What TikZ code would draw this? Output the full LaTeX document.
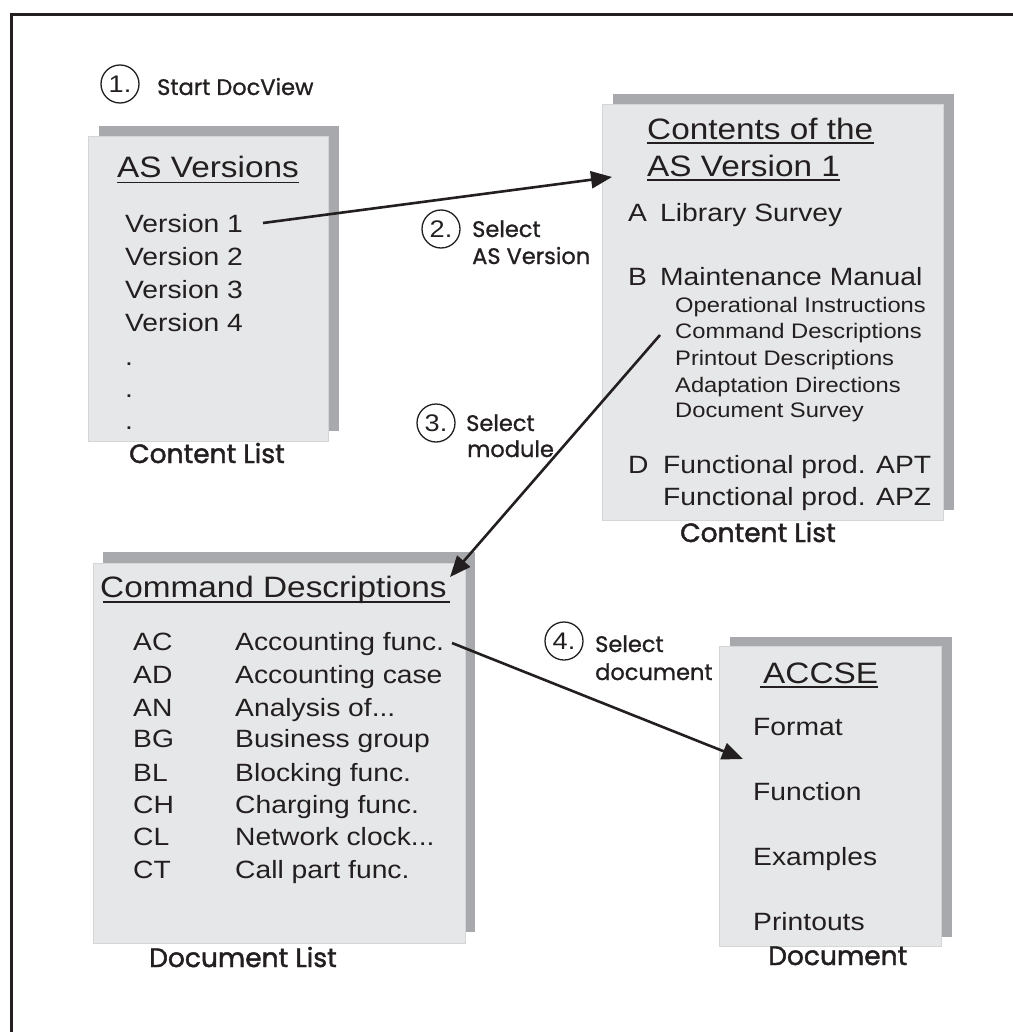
\documentclass[tikz,border=0pt]{standalone}
\usepackage{fontspec}
\newfontfamily\hv[FakeStretch=1.13]{Liberation Sans}
\newfontfamily\lbfont[FakeBold=1.6]{Poppins}
\newfontfamily\stfont[FakeBold=1.0]{Poppins}
\usetikzlibrary{arrows.meta}
\definecolor{boxfill}{HTML}{E6E7E8}
\definecolor{boxedge}{HTML}{D4D5D7}
\definecolor{shade}{HTML}{A7A9AC}
\definecolor{ink}{HTML}{231F20}
\newcommand\fTitle{\hv\fontsize{29.5}{32}\selectfont}
\newcommand\fItem{\hv\fontsize{25}{28}\selectfont}
\newcommand\fSub{\hv\fontsize{21}{24}\selectfont}
\newcommand\fNum{\hv\fontsize{24}{26}\selectfont}
\newcommand\fStep{\stfont\fontsize{22.5}{26}\selectfont}
\newcommand\fLbl{\lbfont\fontsize{26.5}{30}\selectfont}
\begin{document}
\begin{tikzpicture}[x=1pt,y=-1pt,
  txt/.style={anchor=base west, inner sep=0pt, text=ink},
  shadebox/.style={fill=shade, draw=none, anchor=north west, inner sep=0pt},
  frontbox/.style={fill=boxfill, draw=boxedge, line width=0.8pt, anchor=north west, inner sep=0pt},
  stepc/.style={circle, draw=ink, line width=1.3pt, minimum size=38pt, inner sep=0pt, text=ink, font=\fNum},
  conn/.style={draw=ink, line width=2.6pt, -{Triangle[length=21pt,width=17pt]}},
  uline/.style={draw=ink, line width=1.3pt}]
\useasboundingbox (0,0) rectangle (1012,1032);
% frame
\draw[ink, line width=3pt] (11,1040) -- (11,14.5) -- (1020,14.5);

% ---------- Box 1 ----------
\node[shadebox, minimum width=240pt, minimum height=305pt] (b1s) at (99,126) {};
\node[frontbox, minimum width=240pt, minimum height=305pt] (b1) at (88,136) {};
\node[txt, font=\fTitle] (t1) at (117,178) {AS Versions};
\draw[uline] ([yshift=-4.5pt]t1.base west) -- ([yshift=-4.5pt]t1.base east);
\node[txt, font=\fItem] (v1) at (125,233) {Version 1};
\node[txt, font=\fItem] (v2) at (125,265) {Version 2};
\node[txt, font=\fItem] (v3) at (125,298) {Version 3};
\node[txt, font=\fItem] (v4) at (125,331) {Version 4};
\node[txt, font=\fItem] (d1) at (125,365) {.};
\node[txt, font=\fItem] (d2) at (125,397) {.};
\node[txt, font=\fItem] (d3) at (125,429) {.};
\node[txt, font=\fLbl] (l1) at (129,463) {Content List};

% ---------- Box 2 ----------
\node[shadebox, minimum width=341pt, minimum height=416pt] (b2s) at (613,94) {};
\node[frontbox, minimum width=341pt, minimum height=416pt] (b2) at (602,104) {};
\node[txt, font=\fTitle] (t2a) at (647,140) {Contents of the};
\node[txt, font=\fTitle] (t2b) at (647,177) {AS Version 1};
\draw[uline] ([yshift=-3pt]t2a.base west) -- ([yshift=-3pt]t2a.base east);
\draw[uline] ([yshift=-3pt]t2b.base west) -- ([yshift=-3pt]t2b.base east);
\node[txt, font=\fItem] (ka) at (628,222) {A};
\node[txt, font=\fItem] (ia) at (660,222) {Library Survey};
\node[txt, font=\fItem] (kb) at (628,285) {B};
\node[txt, font=\fItem] (ib) at (660,285) {Maintenance Manual};
\node[txt, font=\fSub] (s1) at (675,312) {Operational Instructions};
\node[txt, font=\fSub] (s2) at (675,338) {Command Descriptions};
\node[txt, font=\fSub] (s3) at (675,365) {Printout Descriptions};
\node[txt, font=\fSub] (s4) at (675,392) {Adaptation Directions};
\node[txt, font=\fSub] (s5) at (675,417) {Document Survey};
\node[txt, font=\fItem] (kd) at (628,473) {D};
\node[txt, font=\fItem] (id1) at (663,473) {Functional prod. APT};
\node[txt, font=\fItem] (id2) at (663,505) {Functional prod. APZ};
\node[txt, font=\fLbl] (l2) at (680,542) {Content List};

% ---------- Box 3 ----------
\node[shadebox, minimum width=372pt, minimum height=380pt] (b3s) at (103,552) {};
\node[frontbox, minimum width=372pt, minimum height=380pt] (b3) at (93,563) {};
\node[txt, font=\fTitle] (t3) at (100,597) {Command Descriptions};
\draw[uline] ([yshift=-5pt,xshift=3pt]t3.base west) -- ([yshift=-5pt,xshift=3pt]t3.base east);
\node[txt, font=\fItem] (c1) at (133,650) {AC};
\node[txt, font=\fItem] (e1) at (235,650) {Accounting func.};
\node[txt, font=\fItem] (c2) at (133,683) {AD};
\node[txt, font=\fItem] (e2) at (235,683) {Accounting case};
\node[txt, font=\fItem] (c3) at (133,716) {AN};
\node[txt, font=\fItem] (e3) at (235,716) {Analysis of...};
\node[txt, font=\fItem] (c4) at (133,747) {BG};
\node[txt, font=\fItem] (e4) at (235,747) {Business group};
\node[txt, font=\fItem] (c5) at (133,781) {BL};
\node[txt, font=\fItem] (e5) at (235,781) {Blocking func.};
\node[txt, font=\fItem] (c6) at (133,813) {CH};
\node[txt, font=\fItem] (e6) at (235,813) {Charging func.};
\node[txt, font=\fItem] (c7) at (133,845) {CL};
\node[txt, font=\fItem] (e7) at (235,845) {Network clock...};
\node[txt, font=\fItem] (c8) at (133,878) {CT};
\node[txt, font=\fItem] (e8) at (235,878) {Call part func.};
\node[txt, font=\fLbl] (l3) at (149,967) {Document List};

% ---------- Box 4 ----------
\node[shadebox, minimum width=222pt, minimum height=300pt] (b4s) at (730,637) {};
\node[frontbox, minimum width=222pt, minimum height=300pt] (b4) at (719,646) {};
\node[txt, font=\fTitle] (t4) at (763,683) {ACCSE};
\draw[uline] ([yshift=-4pt,xshift=-3pt]t4.base west) -- ([yshift=-4pt]t4.base east);
\node[txt, font=\fItem] (f1) at (753,735) {Format};
\node[txt, font=\fItem] (f2) at (753,800) {Function};
\node[txt, font=\fItem] (f3) at (753,865) {Examples};
\node[txt, font=\fItem] (f4) at (753,930) {Printouts};
\node[txt, font=\fLbl] (l4) at (768,965) {Document};

% ---------- Steps ----------
\node[stepc] (n1) at (120,84) {1.};
\node[txt, font=\fStep] (st1) at (157,95) {Start DocView};
\node[stepc] (n2) at (441,229) {2.};
\node[txt, font=\fStep] (st2a) at (472,237) {Select};
\node[txt, font=\fStep] (st2b) at (472,264) {AS Version};
\node[stepc] (n3) at (436,423) {3.};
\node[txt, font=\fStep] (st3a) at (466,431) {Select};
\node[txt, font=\fStep] (st3b) at (467,457) {module};
\node[stepc] (n4) at (564,641) {4.};
\node[txt, font=\fStep] (st4a) at (595,652) {Select};
\node[txt, font=\fStep] (st4b) at (595,680) {document};

% ---------- Connectors ----------
\coordinate (a1s) at (263,223);
\coordinate (a1e) at (612,177);
\coordinate (a3s) at (660,335);
\coordinate (a3e) at (450,577);
\coordinate (a4s) at (452,643);
\coordinate (a4e) at (743,759);
\draw[conn] (a1s) -- (a1e);
\draw[conn] (a3s) -- (a3e);
\draw[conn] (a4s) -- (a4e);
\end{tikzpicture}
\end{document}
